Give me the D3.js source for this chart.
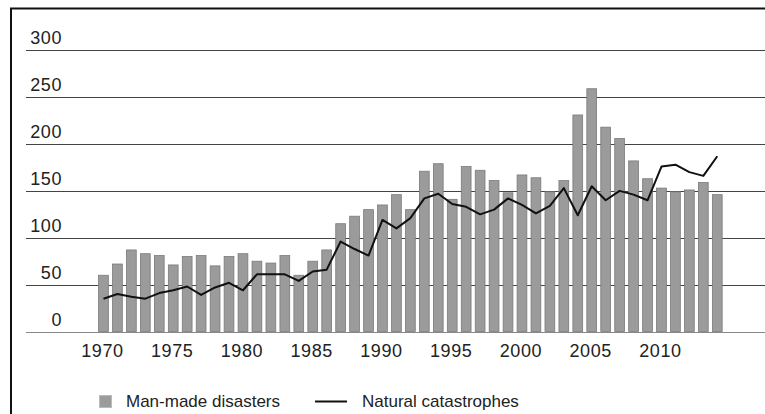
<!DOCTYPE html>
<html lang="en">
<head>
    <meta charset="UTF-8">
    <script src="https://d3js.org/d3.v7.min.js"></script>
    <style>
        body{
            margin:0;
            background:white;
        }
        text{
            font-family:"Liberation Sans", Arial, sans-serif;
            fill:#222;
        }
        .ylab, .xlab{
            font-size:18px;
            letter-spacing:0.6px;
        }
    </style>
    <title>Man-made disasters and natural catastrophes</title>
</head>
<body>
    <svg width="765" height="414"></svg>
    <script>

        // data
        const years = d3.range(1970, 2015);
        const manMade = [60, 72, 87, 83, 81, 71, 80, 81, 70, 80,
                         83, 75, 73, 81, 60, 75, 87, 115, 123, 130,
                         135, 146, 130, 171, 179, 141, 176, 172, 161, 148,
                         167, 164, 149, 161, 231, 259, 218, 206, 182, 163,
                         153, 149, 151, 159, 146];
        const natural = [35, 40, 37, 35, 41, 44, 48, 39, 47, 52,
                         44, 61, 61, 61, 54, 64, 66, 96, 88, 81,
                         119, 110, 121, 142, 147, 136, 133, 125, 130, 142,
                         135, 126, 134, 153, 124, 155, 140, 150, 146, 140,
                         176, 178, 170, 166, 187];
        const yTicks = [0, 50, 100, 150, 200, 250, 300];
        const xTicks = [1970, 1975, 1980, 1985, 1990, 1995, 2000, 2005, 2010];

        const data = years.map((y, i) => ({year: y, man: manMade[i], nat: natural[i]}));

        const width = 765;
        const height = 414;

        const svg = d3.select("svg")
            .attr("width", width)
            .attr("height", height);

        // frame
        svg.append("rect")
            .attr("x", 11)
            .attr("y", 8.5)
            .attr("width", 800)
            .attr("height", 440)
            .attr("fill", "none")
            .attr("stroke", "#111")
            .attr("stroke-width", 2);

        const xScale = d3.scaleBand()
            .domain(years)
            .range([96.5, 96.5 + 45 * 13.95])
            .paddingInner(0.3)
            .paddingOuter(0.15);

        const yScale = d3.scaleLinear()
            .domain([0, 300])
            .range([331.5, 50.3]);

        // grid lines
        svg.selectAll(".grid")
            .data(yTicks)
            .enter().append("line")
            .attr("class", "grid")
            .attr("x1", 26)
            .attr("x2", width)
            .attr("y1", d => Math.round(yScale(d)) + 0.5)
            .attr("y2", d => Math.round(yScale(d)) + 0.5)
            .attr("stroke", d => d === 0 ? "#888" : "#444")
            .attr("stroke-width", 1.2);

        // y labels
        svg.selectAll(".ylab")
            .data(yTicks)
            .enter().append("text")
            .attr("class", "ylab")
            .attr("x", 62)
            .attr("y", d => yScale(d) - 6)
            .attr("text-anchor", "end")
            .text(d => d);

        // bars
        svg.selectAll(".bar")
            .data(data)
            .enter().append("rect")
            .attr("class", "bar")
            .attr("x", d => xScale(d.year))
            .attr("y", d => yScale(d.man))
            .attr("width", xScale.bandwidth())
            .attr("height", d => yScale(0) - yScale(d.man))
            .attr("fill", "#9b9b9b")
            .attr("stroke", "#7a7a7a")
            .attr("stroke-width", 0.8);

        // line
        const line = d3.line()
            .x(d => xScale(d.year) + xScale.bandwidth() / 2)
            .y(d => yScale(d.nat));

        svg.append("path")
            .datum(data)
            .attr("d", line)
            .attr("fill", "none")
            .attr("stroke", "#111")
            .attr("stroke-width", 2)
            .attr("stroke-linejoin", "round");

        // x labels
        svg.selectAll(".xlab")
            .data(xTicks)
            .enter().append("text")
            .attr("class", "xlab")
            .attr("x", d => xScale(d) + xScale.bandwidth() / 2 - 1)
            .attr("y", 357)
            .attr("text-anchor", "middle")
            .text(d => d);

        // legend
        const legend = svg.append("g");
        legend.append("rect")
            .attr("x", 99.5)
            .attr("y", 395.5)
            .attr("width", 12)
            .attr("height", 12)
            .attr("fill", "#9b9b9b")
            .attr("stroke", "#bbb");
        legend.append("text")
            .attr("x", 126)
            .attr("y", 407)
            .style("font-size", "17px")
            .text("Man-made disasters");
        legend.append("line")
            .attr("x1", 315)
            .attr("x2", 347)
            .attr("y1", 401.5)
            .attr("y2", 401.5)
            .attr("stroke", "#111")
            .attr("stroke-width", 2);
        legend.append("text")
            .attr("x", 362)
            .attr("y", 407)
            .style("font-size", "17px")
            .text("Natural catastrophes");

    </script>
</body>
</html>
